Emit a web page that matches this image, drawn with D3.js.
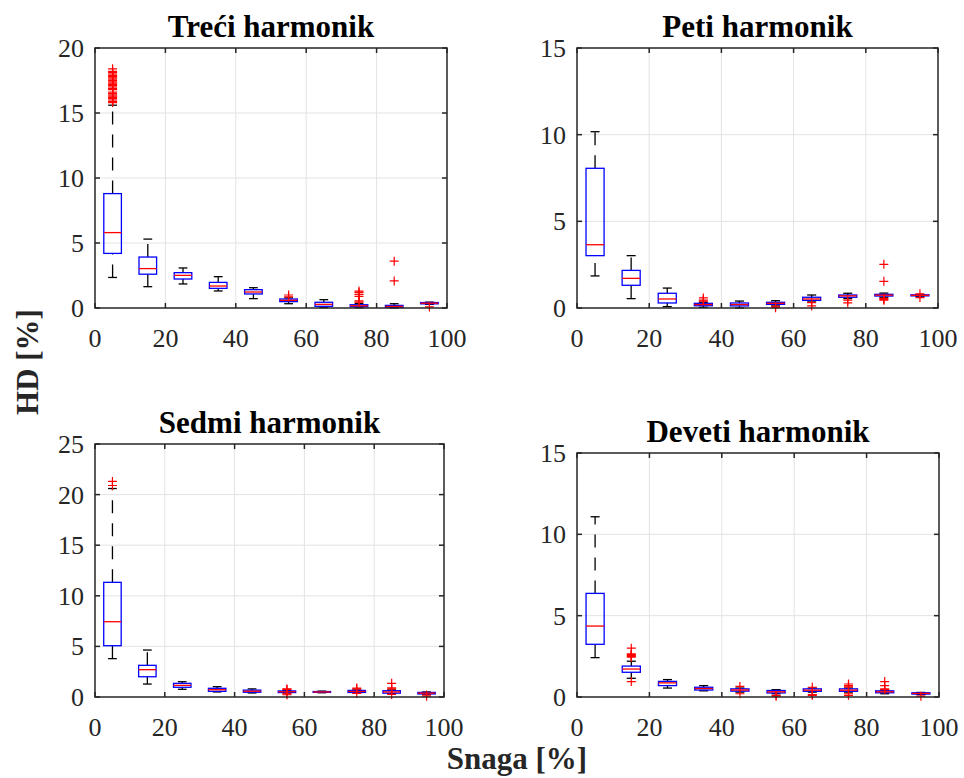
<!DOCTYPE html>
<html>
<head>
<meta charset="utf-8">
<script src="https://cdn.jsdelivr.net/npm/d3@7"></script>
<style>
  html, body { margin: 0; padding: 0; background: #fff; }
  svg { display: block; }
  svg text { font-family: "Liberation Serif", "Times New Roman", Times, serif; }
</style>
</head>
<body>
<svg id="chart" width="964" height="778"></svg>
<script>
// Power levels (box centres) and axis ticks
const positions = [5, 15, 25, 35, 45, 55, 65, 75, 85, 95];
const xTicks = [0, 20, 40, 60, 80, 100];

// Box statistics per power level: [lower whisker, Q1, median, Q3, upper whisker]
const treciStats = [
  [2.35, 4.2, 5.8, 8.8, 15.6],
  [1.64, 2.6, 3.03, 3.92, 5.3],
  [1.85, 2.23, 2.51, 2.72, 3.08],
  [1.31, 1.51, 1.69, 1.97, 2.41],
  [0.72, 1.08, 1.23, 1.41, 1.56],
  [0.33, 0.49, 0.59, 0.69, 0.78],
  [0.03, 0.13, 0.28, 0.44, 0.64],
  [0.02, 0.1, 0.17, 0.25, 0.35],
  [0.0, 0.05, 0.12, 0.2, 0.33],
  [0.28, 0.32, 0.37, 0.42, 0.45]
];
const treciOutliers = [
  [15.8, 15.9, 16.0, 16.1, 16.2, 16.3, 16.4, 16.5, 16.6, 16.8, 16.9, 17.0, 17.1,
   17.2, 17.3, 17.4, 17.5, 17.6, 17.7, 17.8, 17.9, 18.0, 18.1, 18.2, 18.4],
  [], [], [], [],
  [1.0, 0.85],
  [],
  [1.3, 1.2, 1.05, 0.9, 0.55, 0.45],
  [3.6, 2.08],
  [0.08]
];

const petiStats = [
  [1.85, 3.02, 3.65, 8.06, 10.17],
  [0.54, 1.31, 1.71, 2.17, 3.02],
  [0.08, 0.29, 0.52, 0.85, 1.15],
  [0.04, 0.13, 0.2, 0.27, 0.33],
  [0.0, 0.12, 0.2, 0.29, 0.4],
  [0.12, 0.21, 0.27, 0.33, 0.42],
  [0.4, 0.44, 0.52, 0.62, 0.75],
  [0.55, 0.62, 0.7, 0.75, 0.85],
  [0.62, 0.69, 0.74, 0.79, 0.86],
  [0.68, 0.7, 0.73, 0.76, 0.78]
];
const petiOutliers = [
  [], [], [],
  [0.58, 0.46, 0.4],
  [],
  [0.1, 0.02],
  [0.31, 0.12],
  [0.45, 0.3],
  [2.52, 1.54, 0.56, 0.5, 0.45],
  [0.6, 0.82]
];

const sedmiStats = [
  [3.79, 5.07, 7.44, 11.33, 20.6],
  [1.28, 2.0, 2.7, 3.13, 4.64],
  [0.76, 0.96, 1.15, 1.35, 1.51],
  [0.5, 0.56, 0.72, 0.86, 1.02],
  [0.4, 0.47, 0.57, 0.68, 0.8],
  [0.4, 0.44, 0.52, 0.6, 0.66],
  [0.42, 0.46, 0.5, 0.54, 0.58],
  [0.4, 0.45, 0.55, 0.65, 0.7],
  [0.32, 0.38, 0.5, 0.62, 0.7],
  [0.25, 0.3, 0.38, 0.45, 0.5]
];
const sedmiOutliers = [
  [21.3, 20.9],
  [], [], [], [],
  [0.8, 0.75, 0.3, 0.22],
  [],
  [0.88, 0.8, 0.35],
  [1.35, 0.9, 0.8, 0.25],
  [0.2, 0.08]
];

const devetiStats = [
  [2.42, 3.24, 4.36, 6.37, 11.08],
  [1.15, 1.52, 1.72, 1.9, 2.2],
  [0.55, 0.7, 0.87, 0.96, 1.07],
  [0.38, 0.43, 0.52, 0.6, 0.7],
  [0.3, 0.36, 0.43, 0.5, 0.55],
  [0.2, 0.25, 0.32, 0.4, 0.45],
  [0.3, 0.35, 0.42, 0.5, 0.55],
  [0.3, 0.35, 0.42, 0.5, 0.55],
  [0.2, 0.26, 0.32, 0.38, 0.42],
  [0.15, 0.18, 0.22, 0.26, 0.28]
];
const devetiOutliers = [
  [],
  [3.0, 2.65, 2.6, 2.55, 2.5, 2.45, 0.95],
  [], [],
  [0.65, 0.2],
  [0.1, 0.05],
  [0.6, 0.15, 0.1],
  [0.8, 0.7, 0.62, 0.2, 0.1],
  [0.95, 0.7, 0.5, 0.45],
  [0.05]
];

// Panel titles and y ranges
const titles = ["Treći harmonik", "Peti harmonik", "Sedmi harmonik", "Deveti harmonik"];
const yMax = [20, 15, 25, 15];
const yTickStep = 5;
const xLabel = "Snaga [%]";
const yLabel = "HD [%]";

const svg = d3.select("#chart");
const serif = "'Liberation Serif', 'Times New Roman', Times, serif";

// Axes rectangles in pixels for the 2x2 grid
const frames = [
  { left: 95,  right: 447, top: 48,  bottom: 308 },
  { left: 577, right: 938, top: 48,  bottom: 308 },
  { left: 95,  right: 444, top: 444, bottom: 697 },
  { left: 577, right: 939, top: 453, bottom: 697 }
];
const allStats = [treciStats, petiStats, sedmiStats, devetiStats];
const allOutliers = [treciOutliers, petiOutliers, sedmiOutliers, devetiOutliers];

const boxWidth = 5;          // in x-data units
const tickFont = 26;
const axisColor = "#262626";
const gridColor = "#e3e3e3";

frames.forEach((f, i) => {
  const x = d3.scaleLinear().domain([0, 100]).range([f.left, f.right]);
  const y = d3.scaleLinear().domain([0, yMax[i]]).range([f.bottom, f.top]);
  const yTicks = d3.range(0, yMax[i] + 0.001, yTickStep);
  const g = svg.append("g");

  // grid
  g.append("g").selectAll("line").data(xTicks.slice(1, -1)).join("line")
    .attr("x1", d => x(d)).attr("x2", d => x(d))
    .attr("y1", f.top).attr("y2", f.bottom)
    .attr("stroke", gridColor).attr("stroke-width", 1);
  g.append("g").selectAll("line").data(yTicks.slice(1, -1)).join("line")
    .attr("x1", f.left).attr("x2", f.right)
    .attr("y1", d => y(d)).attr("y2", d => y(d))
    .attr("stroke", gridColor).attr("stroke-width", 1);

  // boxplots
  const stats = allStats[i];
  const outs = allOutliers[i];
  const bw = x(boxWidth) - x(0);
  positions.forEach((p, k) => {
    const [lo, q1, med, q3, hi] = stats[k];
    const cx = x(p);
    const bg = g.append("g");
    // whiskers, drawn upward so the dash pattern starts at the lower end
    bg.append("line").attr("x1", cx).attr("x2", cx)
      .attr("y1", y(lo)).attr("y2", y(q1))
      .attr("stroke", "#000").attr("stroke-width", 1.3).attr("stroke-dasharray", "13,10");
    bg.append("line").attr("x1", cx).attr("x2", cx)
      .attr("y1", y(q3)).attr("y2", y(hi))
      .attr("stroke", "#000").attr("stroke-width", 1.3).attr("stroke-dasharray", "13,10");
    // caps
    [lo, hi].forEach(v => {
      bg.append("line").attr("x1", cx - bw / 4).attr("x2", cx + bw / 4)
        .attr("y1", y(v)).attr("y2", y(v))
        .attr("stroke", "#000").attr("stroke-width", 1.3);
    });
    // box
    bg.append("rect").attr("x", cx - bw / 2).attr("width", bw)
      .attr("y", y(q3)).attr("height", Math.max(0.5, y(q1) - y(q3)))
      .attr("fill", "none").attr("stroke", "#0000ff").attr("stroke-width", 1.3);
    // median
    bg.append("line").attr("x1", cx - bw / 2).attr("x2", cx + bw / 2)
      .attr("y1", y(med)).attr("y2", y(med))
      .attr("stroke", "#ff0000").attr("stroke-width", 1.3);
    // outliers
    bg.selectAll("path").data(outs[k]).join("path")
      .attr("d", d => `M${cx - 4.5},${y(d)}H${cx + 4.5}M${cx},${y(d) - 4.5}V${y(d) + 4.5}`)
      .attr("stroke", "#ff0000").attr("stroke-width", 1.2).attr("fill", "none");
  });

  // axis box
  g.append("rect").attr("x", f.left).attr("y", f.top)
    .attr("width", f.right - f.left).attr("height", f.bottom - f.top)
    .attr("fill", "none").attr("stroke", axisColor).attr("stroke-width", 1.5);

  // inward ticks on all four sides
  const tl = 5;
  xTicks.forEach(t => {
    g.append("line").attr("x1", x(t)).attr("x2", x(t)).attr("y1", f.bottom).attr("y2", f.bottom - tl)
      .attr("stroke", axisColor).attr("stroke-width", 1.5);
    g.append("line").attr("x1", x(t)).attr("x2", x(t)).attr("y1", f.top).attr("y2", f.top + tl)
      .attr("stroke", axisColor).attr("stroke-width", 1.5);
  });
  yTicks.forEach(t => {
    g.append("line").attr("x1", f.left).attr("x2", f.left + tl).attr("y1", y(t)).attr("y2", y(t))
      .attr("stroke", axisColor).attr("stroke-width", 1.5);
    g.append("line").attr("x1", f.right).attr("x2", f.right - tl).attr("y1", y(t)).attr("y2", y(t))
      .attr("stroke", axisColor).attr("stroke-width", 1.5);
  });

  // tick labels
  g.append("g").selectAll("text").data(xTicks).join("text")
    .attr("x", d => x(d)).attr("y", f.bottom + 39)
    .attr("text-anchor", "middle").attr("font-family", serif)
    .attr("font-size", tickFont).attr("fill", axisColor)
    .text(d => d);
  g.append("g").selectAll("text").data(yTicks).join("text")
    .attr("x", f.left - 11).attr("y", d => y(d) + 9)
    .attr("text-anchor", "end").attr("font-family", serif)
    .attr("font-size", tickFont).attr("fill", axisColor)
    .text(d => d);

  // title
  g.append("text").attr("x", (f.left + f.right) / 2).attr("y", f.top - 11)
    .attr("text-anchor", "middle").attr("font-family", serif)
    .attr("font-size", 31).attr("font-weight", "bold")
    .attr("fill", "#000").text(titles[i]);
});

// shared axis labels
svg.append("text").attr("x", 517).attr("y", 769)
  .attr("text-anchor", "middle").attr("font-family", serif)
  .attr("font-size", 31).attr("font-weight", "bold")
  .attr("fill", axisColor).text(xLabel);
svg.append("text").attr("transform", "translate(38,362) rotate(-90)")
  .attr("text-anchor", "middle").attr("font-family", serif)
  .attr("font-size", 31).attr("font-weight", "bold")
  .attr("fill", axisColor).text(yLabel);
</script>
</body>
</html>
